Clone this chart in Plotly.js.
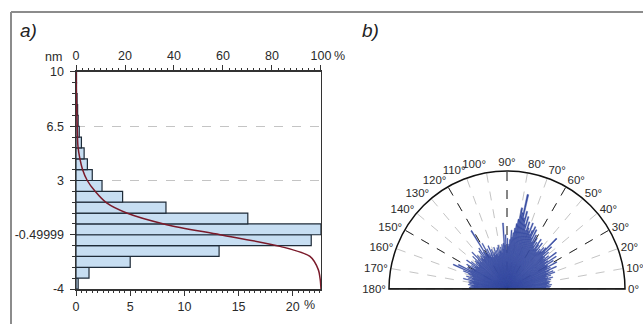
<!DOCTYPE html>
<html><head><meta charset="utf-8">
<script src="https://cdn.plot.ly/plotly-3.0.1.min.js"></script>
<style>html,body{margin:0;padding:0;background:#fff}#chart{width:643px;height:324px}</style>
</head><body><div id="chart"></div>
<script>
// ---- panel a) height histogram ----
const binCenters = [-3.65,-2.95,-2.25,-1.55,-0.85,-0.15,0.55,1.25,1.95,2.65,3.35,4.05,4.75,5.45,6.15,6.85,7.55,8.25,8.95,9.65];
const binPct = [0.2,1.2,5.0,13.2,21.7,22.6,15.85,8.3,4.3,2.4,1.5,1.05,0.75,0.5,0.3,0.2,0.15,0.1,0.05,0.05];
const cumPct = [0,0.15,0.3,0.5,0.8,1.6,2.7,4.6,7.8,12.5,20.7,37,58.8,83.3,95.5,98.9,99.7,100];
const cumNm  = [10,8.5,7.5,6.5,5.2,4.4,3.7,3.0,2.3,1.55,0.9,0.15,-0.5,-1.25,-1.9,-2.75,-3.4,-4];
const yTickVals = [-4,-0.49999,3,6.5,10];
const yTickText = ['-4','-0.49999','3','6.5','10'];
const topTicks = [0,20,40,60,80,100];
const bottomTicks = [0,5,10,15,20];

// ---- panel b) orientation rose ----
const roseAngles = [0.5,1.5,2.5,3.5,4.5,5.5,6.5,7.5,8.5,9.5,10.5,11.5,12.5,13.5,14.5,15.5,16.5,17.5,18.5,19.5,
20.5,21.5,22.5,23.5,24.5,25.5,26.5,27.5,28.5,29.5,30.5,31.5,32.5,33.5,34.5,35.5,36.5,37.5,38.5,39.5,
40.5,41.5,42.5,43.5,44.5,45.5,46.5,47.5,48.5,49.5,50.5,51.5,52.5,53.5,54.5,55.5,56.5,57.5,58.5,59.5,
60.5,61.5,62.5,63.5,64.5,65.5,66.5,67.5,68.5,69.5,70.5,71.5,72.5,73.5,74.5,75.5,76.5,77.5,78.5,79.5,
80.5,81.5,82.5,83.5,84.5,85.5,86.5,87.5,88.5,89.5,90.5,91.5,92.5,93.5,94.5,95.5,96.5,97.5,98.5,99.5,
100.5,101.5,102.5,103.5,104.5,105.5,106.5,107.5,108.5,109.5,110.5,111.5,112.5,113.5,114.5,115.5,116.5,117.5,118.5,119.5,
120.5,121.5,122.5,123.5,124.5,125.5,126.5,127.5,128.5,129.5,130.5,131.5,132.5,133.5,134.5,135.5,136.5,137.5,138.5,139.5,
140.5,141.5,142.5,143.5,144.5,145.5,146.5,147.5,148.5,149.5,150.5,151.5,152.5,153.5,154.5,155.5,156.5,157.5,158.5,159.5,
160.5,161.5,162.5,163.5,164.5,165.5,166.5,167.5,168.5,169.5,170.5,171.5,172.5,173.5,174.5,175.5,176.5,177.5,178.5,179.5];
const roseRadii = [34,36,33,37,35,38,34,36,35,37,
36,34,38,35,40,36,34,39,35,43,
37,42,36,39,46,36,41,38,48,39,
40,46,38,50,42,39,52,41,45,40,
42,47,41,52,45,60,48,43,47,42,
44,40,49,42,46,51,41,47,43,50,
46,52,45,56,48,58,54,50,60,52,
55,60,52,64,57,68,62,82,66,70,
60,56,52,48,44,50,42,38,36,43,
33,46,37,56,39,34,38,31,36,33,
32,38,30,36,29,34,31,37,30,33,
31,36,29,40,33,30,38,32,44,34,
35,58,37,33,42,34,40,32,36,34,
33,38,31,43,35,32,40,34,36,31,
34,30,38,32,42,33,36,31,40,34,
32,38,34,46,36,50,33,40,35,31,
33,30,36,31,34,29,38,32,30,33,
29,32,28,33,30,31,28,32,29,30];
const polarLabelAngles = [0,10,20,30,40,50,60,70,80,90,100,110,120,130,140,150,160,170,180];
const polarLabelText = ['0°','10°','20°','30°','40°','50°','60°','70°','80°','90°','100°','110°','120°','130°','140°','150°','160°','170°','180°'];
const darkGridAngles = [30,60,90,120,150];

const txt = '#2a2a2a';
const fnt = {family:'Liberation Sans, Arial, sans-serif', size:12.5, color:txt};

const traces = [
  {type:'bar', orientation:'h', y:binCenters, x:binPct, width:0.7, xaxis:'x', yaxis:'y',
   marker:{color:'#c7def2', line:{color:'#1e2b38', width:1.2}}, hoverinfo:'skip'},
  {type:'scatter', mode:'lines', x:cumPct, y:cumNm, xaxis:'x2', yaxis:'y',
   line:{color:'#7a1a2a', width:1.5, shape:'spline', smoothing:0.8}, hoverinfo:'skip'},
  {type:'scatterpolar', subplot:'polar', mode:'lines', r:[0,0], theta:[0,180],
   line:{color:'rgba(0,0,0,0)', width:0}, hoverinfo:'skip'},
  {type:'barpolar', subplot:'polar2', r:roseRadii, theta:roseAngles, width:1,
   marker:{color:'#3a4ea3', opacity:1, line:{width:0.4, color:'#3a4ea3'}}, hoverinfo:'skip'},
  {type:'scatterpolar', subplot:'polar2', mode:'lines', r:[100,0,100], theta:[0,0,180],
   line:{color:'#111', width:1.5}, hoverinfo:'skip'}
];

const polarDomain = {x:[389/643, 625/643], y:[35/324, 153/324]};

const layout = {
  width:643, height:324, margin:{l:0,r:0,t:0,b:0},
  paper_bgcolor:'#fff', plot_bgcolor:'#fff', showlegend:false, font:fnt,
  xaxis:{domain:[0.1182,0.4992], range:[0,22.6], anchor:'y', side:'bottom',
    tickmode:'array', tickvals:bottomTicks, ticktext:['0','5','10','15','20'],
    ticks:'outside', ticklen:5, tickcolor:'#333', tickwidth:1,
    minor:{dtick:0.5, tick0:0, ticks:'outside', ticklen:2.5, tickcolor:'#333'},
    showline:true, linecolor:'#333', linewidth:1.5, showgrid:false, zeroline:false,
    tickfont:fnt, ticklabelstandoff:0},
  xaxis2:{overlaying:'x', anchor:'y', side:'top', range:[0,100],
    tickmode:'array', tickvals:topTicks, ticktext:['0','20','40','60','80','100'],
    ticks:'outside', ticklen:5, tickcolor:'#333', tickwidth:1,
    minor:{dtick:2.5, tick0:0, ticks:'outside', ticklen:2, tickcolor:'#333'},
    showline:true, linecolor:'#333', linewidth:1.5, showgrid:false, zeroline:false,
    tickfont:fnt, ticklabelstandoff:0},
  yaxis:{domain:[0.108,0.7778], range:[-4,10], anchor:'x',
    tickmode:'array', tickvals:yTickVals, ticktext:yTickText,
    ticks:'outside', ticklen:5, tickcolor:'#333', tickwidth:1,
    minor:{tick0:-4, dtick:0.7, ticks:'outside', ticklen:3, tickcolor:'#333'},
    showline:true, mirror:true, linecolor:'#333', linewidth:1.5,
    showgrid:true, gridcolor:'#c4c4c4', griddash:'dash', gridwidth:1, zeroline:false,
    tickfont:fnt, ticklabelstandoff:3},
  polar:{domain:polarDomain, sector:[0,180], bgcolor:'#fff',
    angularaxis:{rotation:0, direction:'counterclockwise', tickmode:'array',
      tickvals:polarLabelAngles, ticktext:polarLabelText,
      ticks:'', showline:true, linecolor:'#111', linewidth:1.5,
      showgrid:true, gridcolor:'#c4c4c4', griddash:'dash', gridwidth:1,
      tickfont:{family:'Liberation Sans, Arial, sans-serif', size:11.5, color:txt}},
    radialaxis:{visible:false, range:[0,100], showgrid:false, showline:false}},
  polar2:{domain:polarDomain, sector:[0,180], bgcolor:'rgba(0,0,0,0)',
    angularaxis:{rotation:0, direction:'counterclockwise', tickmode:'array', tickvals:darkGridAngles,
      ticks:'', showticklabels:false, showline:false,
      showgrid:true, gridcolor:'#2a2a2a', griddash:'dash', gridwidth:1},
    radialaxis:{visible:false, range:[0,100], showgrid:false, showline:false}},
  annotations:[
    {xref:'paper', yref:'paper', x:18/643, y:1-31/324, xanchor:'left', yanchor:'middle', showarrow:false,
     text:'<i>a)</i>', font:{family:'Liberation Sans, Arial, sans-serif', size:19, color:'#222'}},
    {xref:'paper', yref:'paper', x:360/643, y:1-31/324, xanchor:'left', yanchor:'middle', showarrow:false,
     text:'<i>b)</i>', font:{family:'Liberation Sans, Arial, sans-serif', size:19, color:'#222'}},
    {xref:'paper', yref:'paper', x:64/643, y:1-57/324, xanchor:'right', yanchor:'middle', showarrow:false,
     text:'nm', font:fnt},
    {xref:'paper', yref:'paper', x:332/643, y:1-56/324, xanchor:'left', yanchor:'middle', showarrow:false,
     text:'%', font:fnt},
    {xref:'paper', yref:'paper', x:302/643, y:1-305/324, xanchor:'left', yanchor:'middle', showarrow:false,
     text:'%', font:fnt}
  ],
  shapes:[
    {type:'line', xref:'paper', yref:'paper', x0:11/643, x1:11/643, y0:0, y1:1-12/324, line:{color:'#8c8c8c', width:2}},
    {type:'line', xref:'paper', yref:'paper', x0:11/643, x1:1, y0:1-12/324, y1:1-12/324, line:{color:'#8c8c8c', width:2}}
  ]
};

Plotly.newPlot('chart', traces, layout, {staticPlot:true, displayModeBar:false});
</script>
</body></html>
